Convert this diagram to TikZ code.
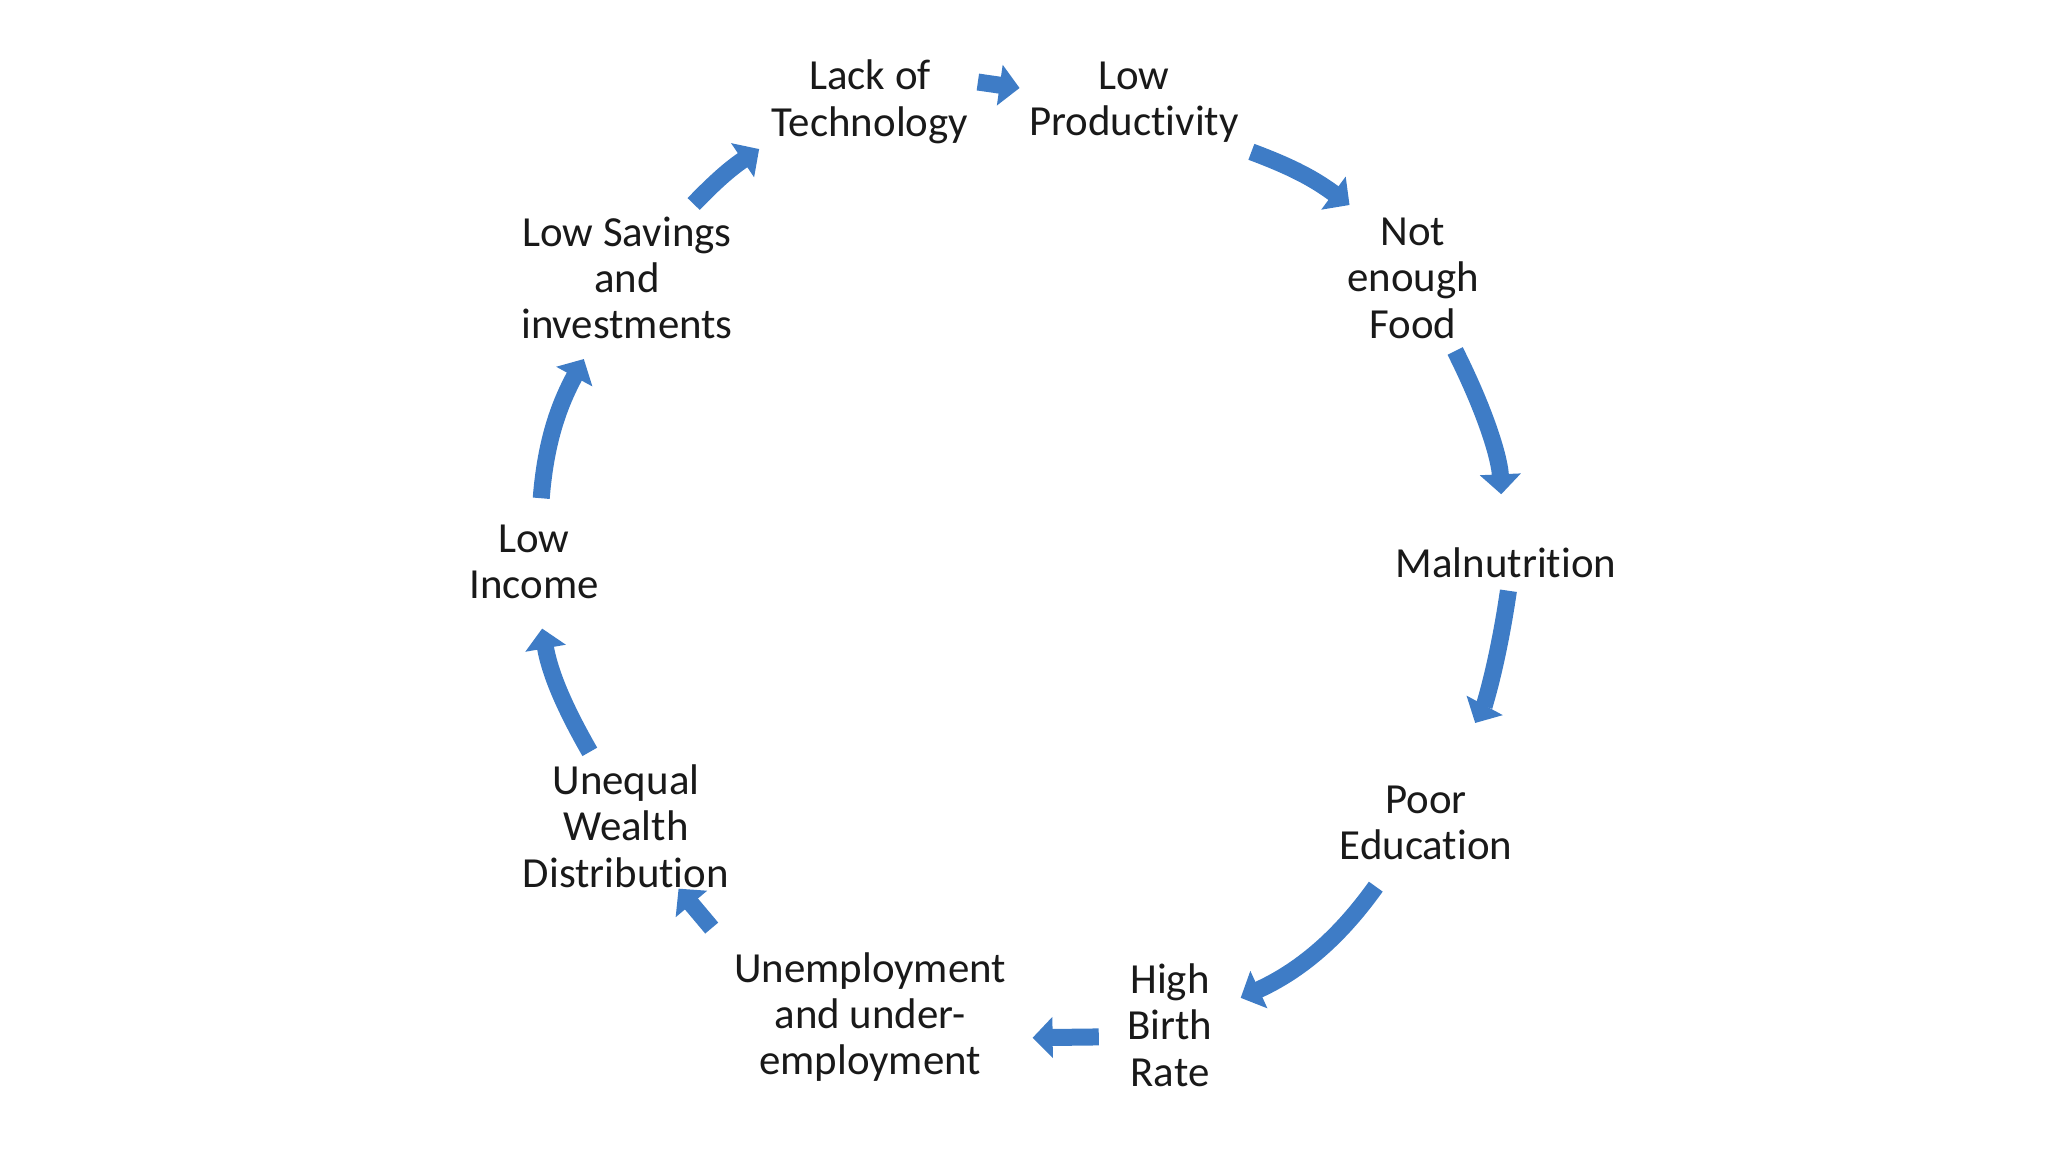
\documentclass[tikz,border=0pt]{standalone}
\usepackage{fontspec}
\setmainfont{Carlito}[Ligatures=NoCommon]
\usepackage{xcolor}
\usepackage{tikz}
\usetikzlibrary{arrows.meta,positioning}
\definecolor{cycleblue}{RGB}{62,124,198}
\tikzset{
    stage/.style={
        inner sep=0.12cm, align=center, text=black!90,
        font=\fontsize{12.2pt}{13.2pt}\selectfont
    },
    flow/.style={
        draw=cycleblue, line width=0.17cm,
        -{Triangle[width=0.4cm,length=0.2cm]}
    }
}
\begin{document}
\begin{tikzpicture}[x=1cm, y=1cm]
\useasboundingbox (0,0) rectangle (20.48,-11.52);

%% Top row
\node[stage] (lack)  at (8.70, -1.02) {Lack of\\Technology};
\node[stage] (prod)  at (11.34,-1.02) {Low\\Productivity};

%% Right side, clockwise
\node[stage] (food)  at (14.13,-2.78) {Not\\enough\\Food};
\node[stage] (mal)   at (15.06,-5.63) {Malnutrition};
\node[stage] (poor)  at (14.26,-8.23) {Poor\\Education};

%% Bottom row
\node[stage] (high)  at (11.70,-10.25) {High\\Birth\\Rate};
\node[stage] (unemp) at (8.70, -10.17) {Unemployment\\and under-\\employment};

%% Left side, going up
\node[stage] (uneq)  at (6.26, -8.26) {Unequal\\Wealth\\Distribution};
\node[stage] (inc)   at (5.34, -5.62) {Low\\Income};
\node[stage] (sav)   at (6.27, -2.78) {Low Savings\\and\\investments};

%% Cycle arrows (clockwise)
\draw[flow, shorten <=-0.03cm, shorten >=-0.03cm] (lack.10) -- (prod.173);
\draw[flow] (prod.-23) to[bend left=8] (food.131);
\draw[flow, shorten >=0.41cm] (food.-60) to[bend left=12] (mal.96);
\draw[flow, shorten >=0.57cm] (mal.-85) to[bend left=10] (poor.66);
\draw[flow, shorten <=0.17cm, shorten >=0.17cm] (poor.231) to[bend left=15] (high.20);
\draw[flow, shorten <=0.16cm, shorten >=0.14cm] (high.192) -- (unemp.-8);
\draw[flow, shorten <=0.15cm, shorten >=-0.15cm] (unemp.north west) -- (uneq.-50);
\draw[flow, shorten >=0.17cm] (uneq.116) to[bend left=10] (inc.-84);
\draw[flow, shorten <=0.14cm, shorten >=0.08cm] (inc.83) to[bend left=12] (sav.-118);
\draw[flow] (sav.48) to[bend left=6] (lack.203);

\end{tikzpicture}
\end{document}
